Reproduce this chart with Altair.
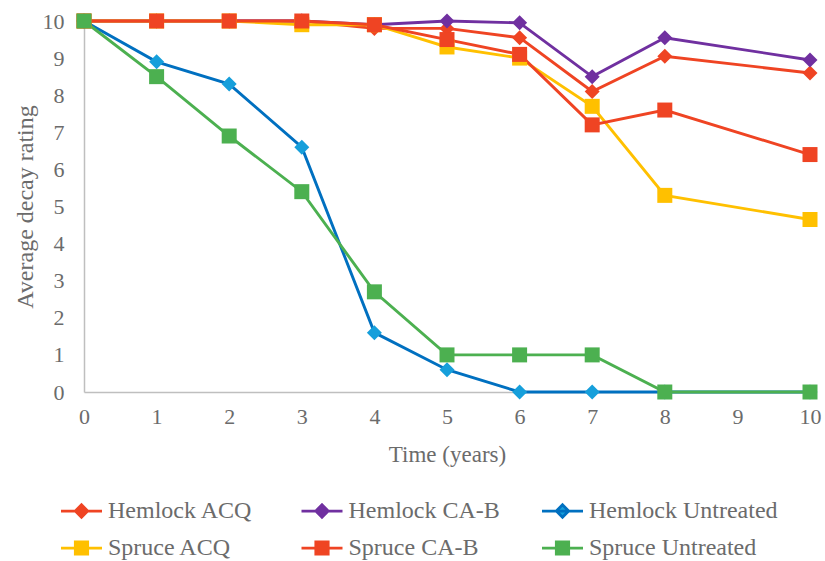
import altair as alt
import pandas as pd

# Inspection years (no reading was taken in year 9)
years = [0, 1, 2, 3, 4, 5, 6, 7, 8, 10]

series_names = [
    "Hemlock ACQ", "Hemlock CA-B", "Hemlock Untreated",
    "Spruce ACQ", "Spruce CA-B", "Spruce Untreated",
]

hemlock_acq = [10, 10, 10, 10, 9.8, 9.8, 9.55, 8.1, 9.05, 8.6]
hemlock_cab = [10, 10, 10, 10, 9.9, 10, 9.95, 8.5, 9.55, 8.95]
hemlock_untreated = [10, 8.9, 8.3, 6.6, 1.6, 0.6, 0, 0, 0, 0]
spruce_acq = [10, 10, 10, 9.9, 9.9, 9.3, 9.0, 7.7, 5.3, 4.65]
spruce_cab = [10, 10, 10, 10, 9.9, 9.5, 9.1, 7.2, 7.6, 6.4]
spruce_untreated = [10, 8.5, 6.9, 5.4, 2.7, 1, 1, 1, 0, 0]

series_values = [hemlock_acq, hemlock_cab, hemlock_untreated,
                 spruce_acq, spruce_cab, spruce_untreated]

line_colors = ["#EF4423", "#7030A0", "#0070C0", "#FFC000", "#EF4423", "#4CB050"]
marker_colors = ["#EF4423", "#7030A0", "#169FDB", "#FFC000", "#EF4423", "#4CB050"]
marker_shapes = ["diamond", "diamond", "diamond", "square", "square", "square"]

rows = []
for idx, (name, vals) in enumerate(zip(series_names, series_values)):
    for t, v in zip(years, vals):
        rows.append({"series": name, "idx": idx, "marker": marker_shapes[idx],
                     "year": t, "rating": v})
df = pd.DataFrame(rows)

FONT = "Liberation Serif"
TEXT = "#6b6b6b"
AXIS = "#BFBFBF"

x_enc = alt.X(
    "year:Q",
    scale=alt.Scale(domain=[0, 10], nice=False),
    axis=alt.Axis(
        title="Time (years)", values=list(range(11)), format="d",
        ticks=False, grid=False, domainColor=AXIS, domainWidth=1.5,
        labelFont=FONT, labelFontSize=22, labelColor=TEXT, labelPadding=14,
        labelFlush=False,
        titleFont=FONT, titleFontSize=23, titleColor=TEXT, titleFontWeight="normal",
        titleBaseline="middle", titleY=62,
    ),
)
y_enc = alt.Y(
    "rating:Q",
    scale=alt.Scale(domain=[0, 10], nice=False),
    axis=alt.Axis(
        title="Average decay rating", values=list(range(11)),
        ticks=False, grid=False, domainColor=AXIS, domainWidth=1.5,
        labelFont=FONT, labelFontSize=22, labelColor=TEXT, labelPadding=20,
        titleFont=FONT, titleFontSize=24, titleColor=TEXT, titleFontWeight="normal",
        titleBaseline="middle", titleX=-59,
    ),
)

# Legend keys: a short line segment with the series marker in the middle
diamond_key = "M-2.05,0H2.05M0,-0.62L0.62,0L0,0.62L-0.62,0Z"
square_key = "M-2.05,0H2.05M-0.62,-0.62H0.62V0.62H-0.62Z"

legend = alt.Legend(
    title=None, orient="none", direction="horizontal", legendX=-14.5, legendY=478,
    columns=3, gridAlign="all", columnPadding=-1.5, rowPadding=13,
    padding=0, symbolSize=400, labelOffset=14.5,
    labelFont=FONT, labelFontSize=24, labelColor=TEXT, labelLimit=300,
    symbolType=alt.ExprRef(expr=f"indexof(datum.value, 'Hemlock') >= 0 ? '{diamond_key}' : '{square_key}'"),
    symbolFillColor=alt.ExprRef(expr="scale('fill', datum.value)"),
    symbolStrokeColor=alt.ExprRef(expr="scale('color', datum.value)"),
    symbolStrokeWidth=2.75,
    symbolOpacity=1,
)

lines = alt.Chart(df).mark_line(strokeWidth=2.9).encode(
    x=x_enc,
    y=y_enc,
    color=alt.Color("series:N", scale=alt.Scale(domain=series_names, range=line_colors), legend=legend),
    order=alt.Order("year:Q"),
)

points = alt.Chart(df).mark_point(filled=True, opacity=1, size=225).encode(
    x=x_enc,
    y=y_enc,
    fill=alt.Fill("series:N", scale=alt.Scale(domain=series_names, range=marker_colors), legend=None),
    shape=alt.Shape("marker:N", scale=None),
    order=alt.Order("idx:Q"),
)

chart = alt.layer(lines, points).properties(
    width=726,
    height=371,
    autosize=alt.AutoSizeParams(type="none"),
    padding={"left": 84, "top": 21, "right": 15, "bottom": 169},
    background="white",
).configure_view(stroke=None)

chart.save("out.html", embed_options={"renderer": "svg", "actions": False})
